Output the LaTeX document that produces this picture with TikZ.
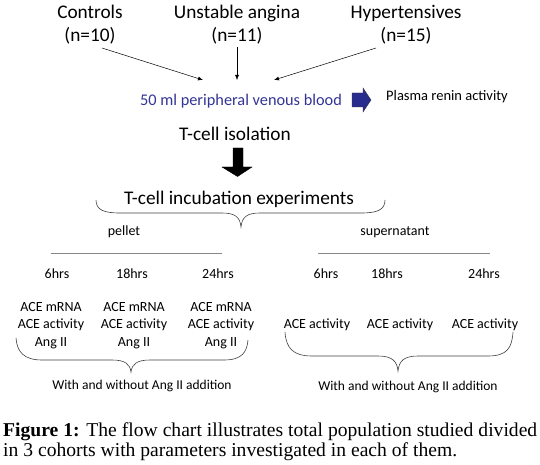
\documentclass[tikz,border=0pt]{standalone}
\usepackage{fontspec}
\setmainfont{Carlito}
\newfontfamily\capfont{Liberation Serif}
\usetikzlibrary{arrows.meta}
\definecolor{bluetxt}{RGB}{50,52,150}
\definecolor{bluearrow}{RGB}{40,44,140}
\definecolor{linegray}{RGB}{135,135,135}
\begin{document}
\begin{tikzpicture}[x=1pt,y=-1pt,
 big/.style={font=\fontsize{19.3}{23}\selectfont, align=center, inner sep=0pt},
 small/.style={font=\fontsize{14}{17.5}\selectfont, align=center, inner sep=0pt},
 tiny/.style={font=\fontsize{13.5}{16}\selectfont, align=center, inner sep=0pt},
 arr/.style={-{Latex[length=5pt,width=4pt]}, line width=0.5pt},
 bracecurve/.style={line width=0.6pt, draw=black!75},
 sep/.style={line width=0.8pt, draw=linegray},
 caption/.style={font=\capfont\fontsize{19.6}{20}\selectfont, inner sep=0pt, anchor=west}]
\useasboundingbox (0,0) rectangle (540,465);

% groups
\node[big] (ctrl) at (90,24.5) {Controls\\(n=10)};
\node[big] (ua) at (237,24.5) {Unstable angina\\(n=11)};
\node[big] (hyp) at (406,24.5) {Hypertensives\\(n=15)};

\coordinate (s1) at (102,48);
\coordinate (s2) at (237,47);
\coordinate (s3) at (376,48);
\coordinate (e1) at (203,80);
\coordinate (e2) at (237,80);
\coordinate (e3) at (274,80);
\draw[arr] (s1) -- (e1);
\draw[arr] (s2) -- (e2);
\draw[arr] (s3) -- (e3);

% blood
\node[inner sep=0pt, font=\fontsize{16.3}{19}\selectfont, text=bluetxt] (blood) at (241,101) {50 ml peripheral venous blood};
\draw[fill=bluearrow, draw=black!80, line width=0.4pt] (352,93) -- (363,93) -- (363,88) -- (371,100) -- (363,112) -- (363,107) -- (352,107) -- cycle;
\node[inner sep=0pt, font=\fontsize{14.5}{17}\selectfont] (pra) at (447,97) {Plasma renin activity};

\node[big] (iso) at (235,134) {T-cell isolation};
\draw[fill=black] (233,148) -- (243,148) -- (243,167) -- (252,167) -- (237.5,176.5) -- (222,167) -- (233,167) -- cycle;

\node[big] (inc) at (239,199) {T-cell incubation experiments};
\draw[bracecurve] (96,200) .. controls (96,210) and (104,213) .. (120,213) -- (222,213) .. controls (235,213) and (240,217) .. (241,227) .. controls (242,217) and (247,213) .. (260,213) -- (361,213) .. controls (377,213) and (385,210) .. (385,200);

\node[small] (pel) at (124,232) {pellet};
\node[small] (sup) at (395,232) {supernatant};
\draw[sep] (51,253) -- (222,253);
\draw[sep] (318,253) -- (490,253);

% hours
\node[small] (h1) at (57,274) {6hrs};
\node[small] (h2) at (132,274) {18hrs};
\node[small] (h3) at (218,274) {24hrs};
\node[small] (h4) at (326,274) {6hrs};
\node[small] (h5) at (387,274) {18hrs};
\node[small] (h6) at (484,274) {24hrs};

% pellet parameters
\node[small] (p1) at (51,325.5) {ACE mRNA\\ACE activity\\Ang II};
\node[small] (p2) at (134,325.5) {ACE mRNA\\ACE activity\\Ang II};
\node[small] (p3) at (221,325.5) {ACE mRNA\\ACE activity\\Ang II};

% supernatant parameters
\node[small] (q1) at (317,325) {ACE activity};
\node[small] (q2) at (400,325) {ACE activity};
\node[small] (q3) at (485,325) {ACE activity};

% lower braces
\draw[bracecurve] (16,338) .. controls (17,352) and (24,360) .. (42,360) -- (112,360) .. controls (125,360) and (130,364) .. (131,372) .. controls (132,364) and (137,360) .. (150,360) -- (224,360) .. controls (242,360) and (247,352) .. (248,340);
\draw[bracecurve] (285,332) .. controls (286,348) and (293,356) .. (312,356) -- (378,356) .. controls (392,356) and (397,361) .. (398,371) .. controls (399,361) and (404,356) .. (418,356) -- (488,356) .. controls (507,356) and (512,348) .. (513,332);

\node[tiny] (w1) at (142,386) {With and without Ang II addition};
\node[tiny] (w2) at (408,387) {With and without Ang II addition};

% caption
\node[caption] (cap1) at (3,432) {\makebox[534pt][s]{\textbf{Figure 1:} The flow chart illustrates total population studied divided}};
\node[caption] (cap2) at (3,452) {in 3 cohorts with parameters investigated in each of them.};
\end{tikzpicture}
\end{document}
